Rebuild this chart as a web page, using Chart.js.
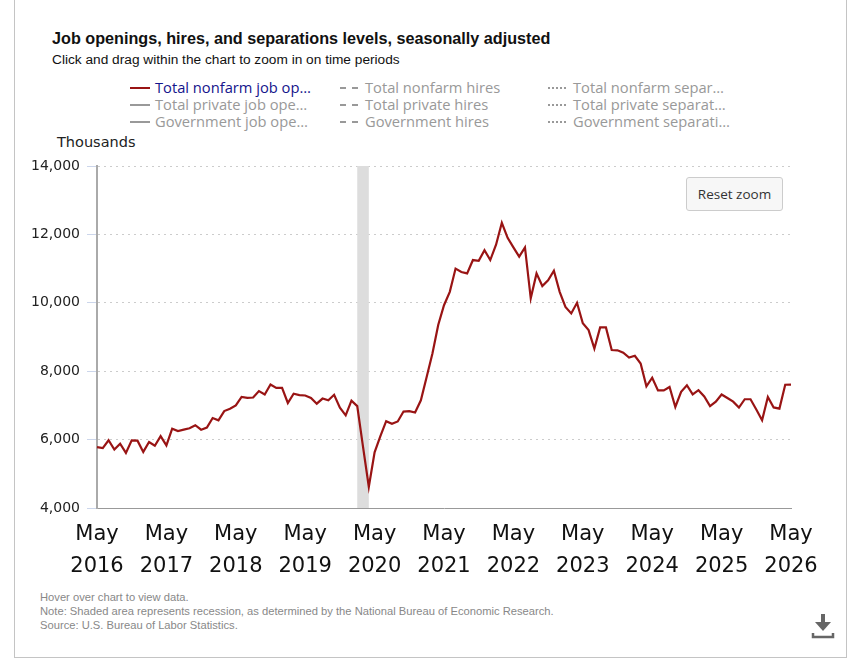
<!DOCTYPE html>
<html>
<head>
<meta charset="utf-8">
<script src="https://cdn.jsdelivr.net/npm/chart.js@4"></script>
<style>
  html, body { margin:0; padding:0; background:#fff; }
  body { width:862px; height:668px; position:relative; overflow:hidden; }
  .card { position:absolute; left:14px; top:-2px; width:833px; height:660px; border:1px solid #c4c4c4; box-sizing:border-box; }
  .abs { position:absolute; white-space:nowrap; }
  #title { left:52px; top:29px; font:bold 16.2px "Liberation Sans", Arial, sans-serif; color:#111; }
  #subtitle { left:52px; top:52px; font:13.7px "Liberation Sans", Arial, sans-serif; color:#111; }
  .leg { font:14.7px "Open Sans", sans-serif; color:#999; line-height:17px; }
  .leg .mk { position:absolute; top:8px; width:20px; height:0; }
  .leg .tx { position:absolute; left:25px; top:0; }
  #thousands { left:57px; top:134px; font:14.5px "DejaVu Sans", sans-serif; color:#222; }
  #reset { left:686px; top:177px; width:97px; height:34px; box-sizing:border-box; border:1px solid #ccc; border-radius:3px; background:#f7f7f7; font:13.5px "Open Sans", sans-serif; color:#333; text-align:center; line-height:32px; }
  .foot { left:40px; font:11.2px "Liberation Sans", Arial, sans-serif; color:#888; }
  #chartWrap { position:absolute; left:20px; top:150px; width:810px; height:438px; }
</style>
</head>
<body>
<div class="card"></div>
<div id="title" class="abs">Job openings, hires, and separations levels, seasonally adjusted</div>
<div id="subtitle" class="abs">Click and drag within the chart to zoom in on time periods</div>
<div id="legend"></div>
<div id="thousands" class="abs">Thousands</div>
<div id="chartWrap"><canvas id="c" width="810" height="438"></canvas></div>
<div id="reset" class="abs">Reset zoom</div>
<div class="abs foot" style="top:591px">Hover over chart to view data.</div>
<div class="abs foot" style="top:605px">Note: Shaded area represents recession, as determined by the National Bureau of Economic Research.</div>
<div class="abs foot" style="top:619px">Source: U.S. Bureau of Labor Statistics.</div>
<svg class="abs" style="left:810px;top:612px" width="26" height="28" viewBox="0 0 26 28">
  <rect x="11" y="2" width="4" height="9" fill="#666"/>
  <polygon points="5,10 21,10 13,19" fill="#666"/>
  <polyline points="3,21 3,25 23,25 23,21" fill="none" stroke="#666" stroke-width="2.5"/>
</svg>
<script>
// ---- data ----
const startYear = 2016;
const monthNames = ["Jan","Feb","Mar","Apr","May","Jun","Jul","Aug","Sep","Oct","Nov","Dec"];
const months = [];
for (let k = 0; k < 121; k++) {
  const m = (4 + k) % 12;
  const y = startYear + Math.floor((4 + k) / 12);
  months.push(monthNames[m] + " " + y);
}
const totalNonfarmJobOpenings = [
  5780, 5750, 5980, 5710, 5880, 5610, 5980, 5970, 5640, 5930, 5820, 6100,
  5830, 6320, 6250, 6290, 6330, 6420, 6290, 6350, 6630, 6565, 6835, 6900,
  7000, 7250, 7220, 7230, 7420, 7320, 7610, 7510, 7510, 7070, 7340, 7300,
  7290, 7220, 7050, 7200, 7150, 7310, 6930, 6710, 7140, 6980, 5790, 4620,
  5630, 6100, 6540, 6460, 6530, 6820, 6830, 6790, 7150, 7830, 8520, 9350,
  9930, 10320, 11000, 10900, 10860, 11250, 11230, 11540, 11250, 11700, 12340, 11900,
  11620, 11350, 11620, 10130, 10860, 10490, 10660, 10940, 10320, 9880, 9690, 10000,
  9400, 9200, 8660, 9280, 9280, 8620, 8610, 8540, 8400, 8450, 8225, 7560,
  7810, 7440, 7440, 7540, 6955, 7395, 7590, 7320, 7444, 7260, 6980, 7110,
  7320, 7215, 7110, 6936, 7180, 7180, 6880, 6565, 7249, 6940, 6906, 7605,
  7610
];
const xTickLabels = ["May 2016","May 2017","May 2018","May 2019","May 2020","May 2021","May 2022","May 2023","May 2024","May 2025","May 2026"];
const yTickValues = [4000, 6000, 8000, 10000, 12000, 14000];
const recession = ["Feb 2020", "Apr 2020"];

const legendItems = [
  ["Total nonfarm job op...", "solid", true],
  ["Total nonfarm hires", "dash", false],
  ["Total nonfarm separ...", "dot", false],
  ["Total private job ope...", "solid", false],
  ["Total private hires", "dash", false],
  ["Total private separat...", "dot", false],
  ["Government job ope...", "solid", false],
  ["Government hires", "dash", false],
  ["Government separati...", "dot", false]
];

// ---- legend (HTML) ----
const legendEl = document.getElementById('legend');
const colX = [130, 340, 548];
const rowY = [79, 96, 113];
legendItems.forEach((it, i) => {
  const d = document.createElement('div');
  d.className = 'abs leg';
  d.style.left = colX[i % 3] + 'px';
  d.style.top = rowY[Math.floor(i / 3)] + 'px';
  d.style.width = '200px';
  d.style.height = '17px';
  const mk = document.createElement('div');
  mk.className = 'mk';
  const col = it[2] ? '#991414' : '#999';
  if (it[1] === 'solid') mk.style.borderTop = '2px solid ' + col;
  if (it[1] === 'dash') { mk.style.borderTop = '2px dashed ' + col; mk.style.width = '18px'; }
  if (it[1] === 'dot') { mk.style.borderTop = '2px dotted ' + col; mk.style.width = '18px'; }
  const tx = document.createElement('div');
  tx.className = 'tx';
  tx.textContent = it[0].replace('...', '\u2026');
  if (it[2]) tx.style.color = '#14148c';
  d.appendChild(mk); d.appendChild(tx);
  legendEl.appendChild(d);
});

// ---- recession shading plugin ----
const recessionPlugin = {
  id: 'recession',
  beforeDatasetsDraw(chart) {
    const xs = chart.scales.x, area = chart.chartArea, ctx = chart.ctx;
    const x1 = xs.getPixelForValue(months.indexOf(recession[0]));
    const x2 = xs.getPixelForValue(months.indexOf(recession[1]));
    ctx.save();
    ctx.fillStyle = '#dddddd';
    ctx.fillRect(x1, area.top, x2 - x1, area.bottom - area.top);
    ctx.restore();
  }
};

new Chart(document.getElementById('c'), {
  type: 'line',
  data: {
    labels: months,
    datasets: [{
      label: 'Total nonfarm job openings',
      data: totalNonfarmJobOpenings,
      borderColor: '#991414',
      borderWidth: 2.2,
      pointRadius: 0,
      tension: 0,
      fill: false
    }]
  },
  options: {
    responsive: false,
    animation: false,
    devicePixelRatio: 1,
    layout: { padding: { top: 16, right: 39, left: 0, bottom: 0 } },
    plugins: { legend: { display: false }, tooltip: { enabled: false } },
    scales: {
      x: {
        type: 'category',
        offset: false,
        afterBuildTicks(scale) {
          scale.ticks = scale.ticks.filter(t => xTickLabels.includes(months[t.value]));
        },
        afterFit(scale) { scale.height = 80; },
        grid: { display: false },
        border: { display: true, color: '#999', width: 1 },
        ticks: {
          autoSkip: false,
          maxRotation: 0,
          minRotation: 0,
          padding: 3,
          color: '#111',
          font: { family: 'DejaVu Sans', size: 21, lineHeight: 1.5 },
          callback(value) { return months[value].split(' '); }
        }
      },
      y: {
        min: 4000,
        max: 14000,
        afterBuildTicks(scale) { scale.ticks = yTickValues.map(v => ({ value: v })); },
        afterFit(scale) { scale.width = 77; },
        grid: { color: '#cccccc', lineWidth: 1, tickLength: 10, tickColor: '#ccd6eb', tickBorderDash: [] },
        border: { display: true, color: '#aaaaaa', width: 2, dash: [2, 4] },
        ticks: {
          padding: 7,
          color: '#222',
          font: { family: 'DejaVu Sans', size: 14 },
          callback(v) { return Number(v).toLocaleString('en-US'); }
        }
      }
    }
  },
  plugins: [recessionPlugin]
});
</script>
</body>
</html>
